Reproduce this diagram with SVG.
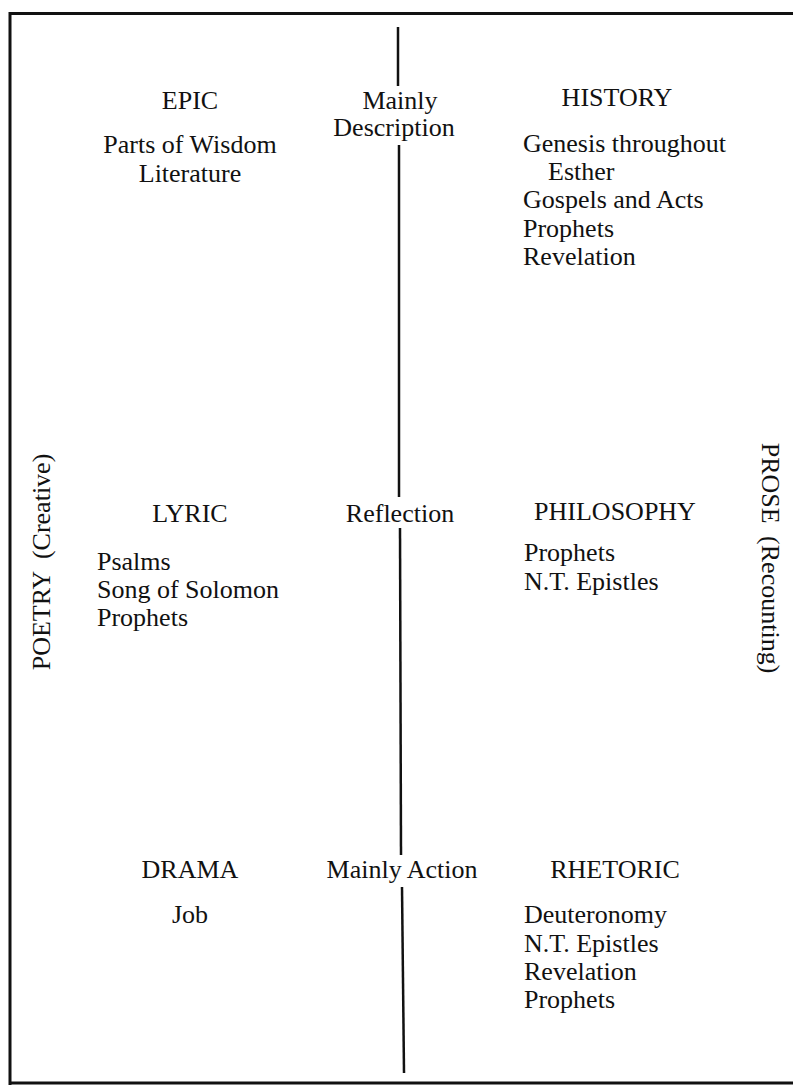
<svg xmlns="http://www.w3.org/2000/svg" width="793" height="1085" viewBox="0 0 793 1085">
<style>
text{font-family:"Liberation Serif","Times New Roman",serif;font-size:26px;fill:#111}
.c{text-anchor:middle}
.w{word-spacing:6px}
.b{stroke:#111;stroke-width:3;fill:none}
.v{stroke:#111;stroke-width:2.5;fill:none}
</style>
<rect width="793" height="1085" fill="#fff"/>
<g id="frame">
<path class="b" d="M10,1085 V13.5 H793"/>
<path class="b" d="M10,1083 H793"/>
</g>
<g id="connectors">
<line class="v" x1="398" y1="27" x2="398" y2="86"/>
<line class="v" x1="399" y1="145" x2="399" y2="497"/>
<line class="v" x1="400" y1="528" x2="401" y2="855"/>
<line class="v" x1="402" y1="887" x2="404" y2="1073"/>
</g>
<g id="axis-mid">
<text class="c" x="400" y="109">Mainly</text>
<text class="c" x="394" y="136">Description</text>
<text class="c" x="400" y="522">Reflection</text>
<text class="c" x="402" y="878">Mainly Action</text>
</g>
<g id="epic">
<text class="c" x="190" y="109">EPIC</text>
<text class="c" x="190" y="153">Parts of Wisdom</text>
<text class="c" x="190" y="182">Literature</text>
</g>
<g id="history">
<text class="c" x="617" y="106">HISTORY</text>
<text x="523" y="152">Genesis throughout</text>
<text x="548" y="180">Esther</text>
<text x="523" y="208">Gospels and Acts</text>
<text x="523" y="237">Prophets</text>
<text x="523" y="265">Revelation</text>
</g>
<g id="lyric">
<text class="c" x="190" y="522">LYRIC</text>
<text x="97" y="570">Psalms</text>
<text x="97" y="598">Song of Solomon</text>
<text x="97" y="626">Prophets</text>
</g>
<g id="philosophy">
<text class="c" x="615" y="520">PHILOSOPHY</text>
<text x="524" y="561">Prophets</text>
<text x="524" y="590">N.T. Epistles</text>
</g>
<g id="drama">
<text class="c" x="190" y="878">DRAMA</text>
<text x="172" y="923">Job</text>
</g>
<g id="rhetoric">
<text class="c" x="615" y="878">RHETORIC</text>
<text x="524" y="923">Deuteronomy</text>
<text x="524" y="952">N.T. Epistles</text>
<text x="524" y="980">Revelation</text>
<text x="524" y="1008">Prophets</text>
</g>
<g id="poetry-label">
<text class="c w" transform="translate(50,562) rotate(-90)">POETRY (Creative)</text>
</g>
<g id="prose-label">
<text class="c w" transform="translate(762,558) rotate(90)">PROSE (Recounting)</text>
</g>
</svg>
